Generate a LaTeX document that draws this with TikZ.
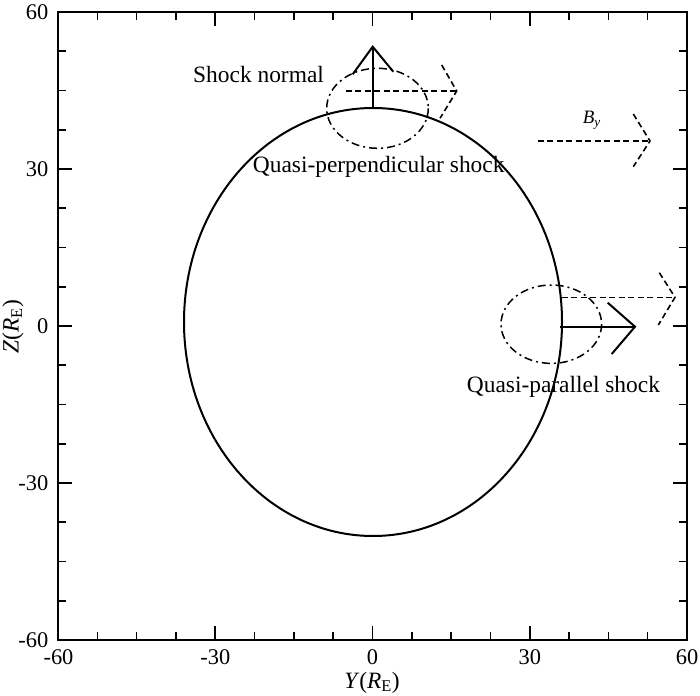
\documentclass[tikz,border=0pt]{standalone}
\usepackage{fontspec}
\setmainfont{Liberation Serif}
\begin{document}
\begin{tikzpicture}[x=1bp,y=-1bp,
  txt/.style={font=\fontsize{23.5}{27}\selectfont, inner sep=0pt},
  ticktxt/.style={font=\fontsize{22.5}{26}\selectfont, inner sep=0pt},
  smalltxt/.style={font=\fontsize{19}{22}\selectfont, inner sep=0pt},
  axisline/.style={line width=1.8bp},
  tickline/.style={line width=1.6bp},
  curveline/.style={line width=2bp},
  dashdotline/.style={line width=1.5bp, dash pattern=on 8bp off 4bp on 2bp off 4bp},
  dashline/.style={line width=1.6bp, dash pattern=on 6bp off 3.5bp},
  solidarrow/.style={line width=2bp}]
\useasboundingbox (0,0) rectangle (700,696);
% axes box
\coordinate (bl) at (58,640);
\coordinate (tr) at (687,12);
\draw[axisline] (bl) rectangle (tr);
% ticks
\foreach \k in {1,...,15}{
  \pgfmathsetmacro{\xx}{58+\k*39.3125}
  \pgfmathsetmacro{\yy}{12+\k*39.25}
  \pgfmathsetmacro{\len}{mod(\k,4)==0 ? 14 : 8}
  \draw[tickline] (\xx,640) -- (\xx,640-\len);
  \draw[tickline] (\xx,12) -- (\xx,12+\len);
  \draw[tickline] (58,\yy) -- (58+\len,\yy);
  \draw[tickline] (687,\yy) -- (687-\len,\yy);
}
% x tick labels
\foreach \v/\xx in {-60/58.5,-30/215.3,0/372.5,30/529.8,60/687}{
  \node[ticktxt, anchor=base] (xl\v) at (\xx,664) {\v};
}
% y tick labels
\foreach \v/\yy in {60/12,30/169,0/326,-30/483,-60/640}{
  \node[ticktxt, anchor=east] (yl\v) at (48.5,\yy) {\v};
}
% axis titles
\node[txt, anchor=base] (xtitle) at (372,688) {\textit{Y}(\textit{R}\textsubscript{E})};
\node[txt, anchor=base, rotate=90] (ytitle) at (18.5,327) {\textit{Z}(\textit{R}\textsubscript{E})};
% bow shock curve
\draw[curveline] (373,322) ellipse [x radius=189, y radius=214];
% quasi-perpendicular region
\draw[dashdotline] (377.5,108.3) ellipse [x radius=50.8, y radius=40];
\coordinate (nbase) at (372.7,108.3);
\coordinate (ntip) at (372.7,46.7);
\draw[solidarrow] (nbase) -- (ntip);
\draw[solidarrow, line join=miter] (352.7,74.3) -- (ntip) -- (393.3,71.7);
\coordinate (b1s) at (345.7,91);
\coordinate (b1e) at (456.7,91);
\draw[dashline] (b1s) -- (b1e);
\draw[dashline] (441.7,65) -- (b1e) -- (440,118.3);
\node[txt, anchor=base west] (shocknormal) at (193,83) {Shock normal};
\node[txt, anchor=base west] (qperp) at (252.7,172) {Quasi-perpendicular shock};
% By arrow
\coordinate (b2s) at (537.7,141);
\coordinate (b2e) at (650,141);
\draw[dashline] (b2s) -- (b2e);
\draw[dashline] (633.3,114) -- (b2e) -- (633.3,166.7);
\node[smalltxt, anchor=base west] (by) at (582.7,124) {\textit{B}\textsubscript{\textit{y}}};
% quasi-parallel region
\draw[dashdotline] (551.3,324.2) ellipse [x radius=50.3, y radius=39.2];
\coordinate (pbase) at (560,326.7);
\coordinate (ptip) at (635,326.7);
\draw[solidarrow] (pbase) -- (ptip);
\draw[solidarrow, line join=miter] (607.7,302.7) -- (ptip) -- (611.7,354);
\coordinate (b3s) at (561.7,297.3);
\coordinate (b3e) at (675,297.3);
\draw[dashline] (b3s) -- (b3e);
\draw[dashline] (659.3,272.7) -- (b3e) -- (658.3,325);
\node[txt, anchor=base west] (qpar) at (466.7,392) {Quasi-parallel shock};
\end{tikzpicture}
\end{document}
